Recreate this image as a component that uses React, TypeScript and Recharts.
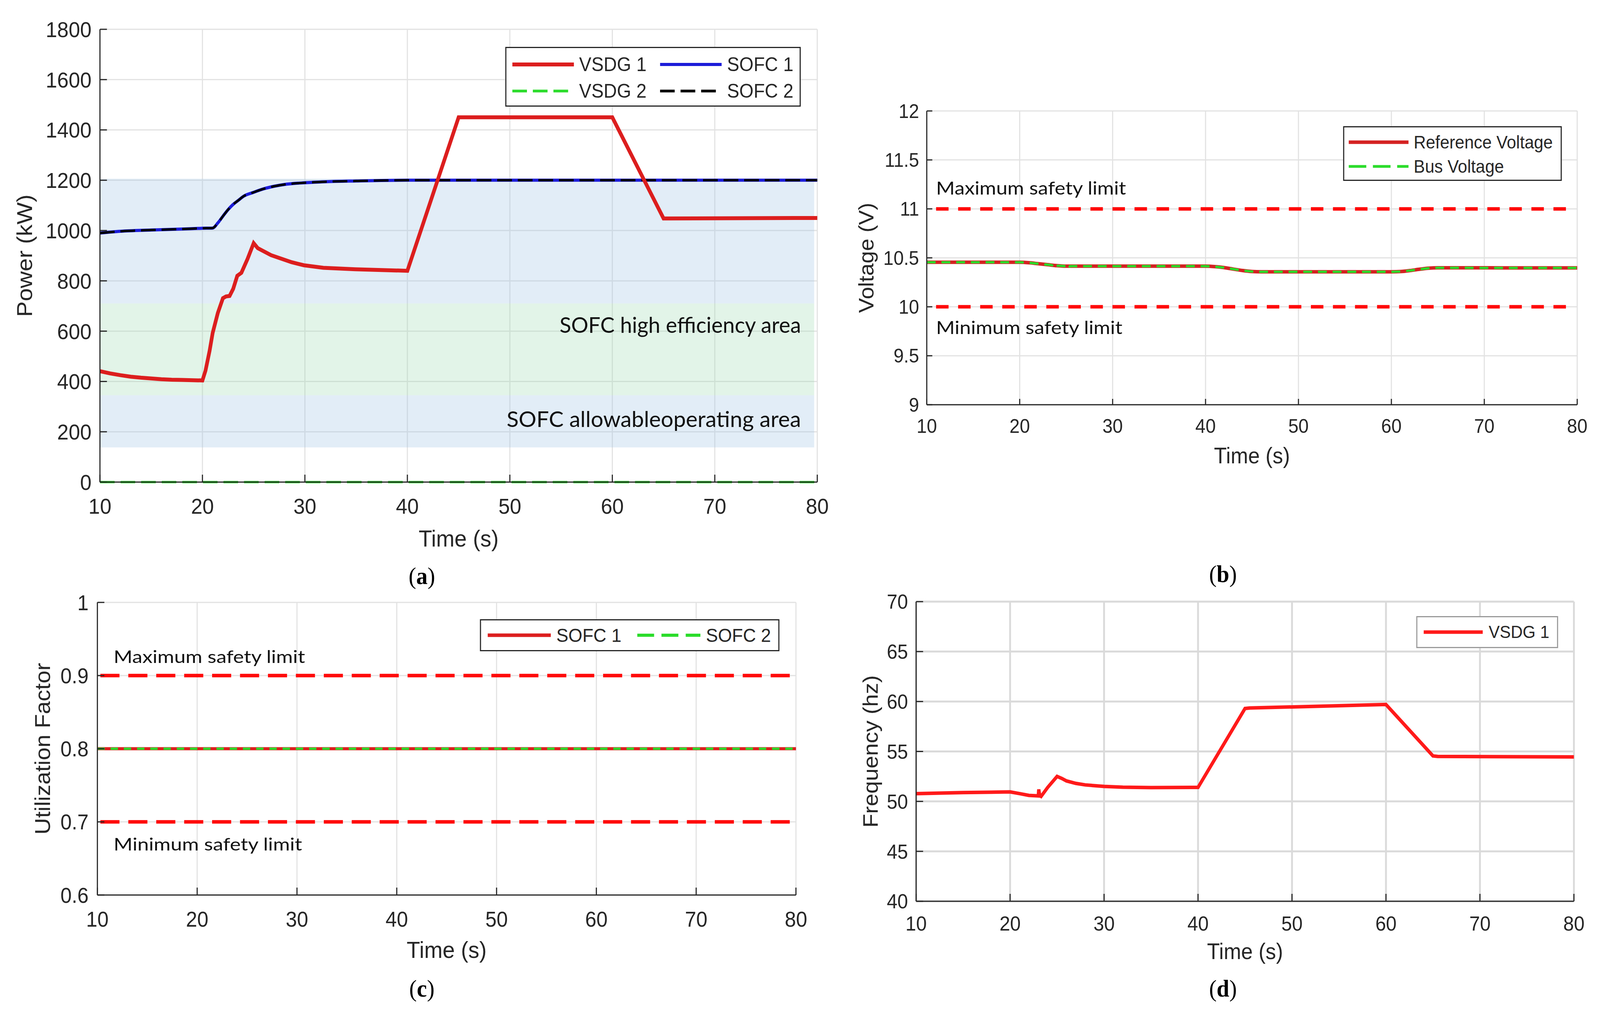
import { useLayoutEffect, useState } from 'react'
import {
  CartesianGrid,
  Legend,
  Line,
  LineChart,
  ReferenceArea,
  ReferenceLine,
  XAxis,
  YAxis,
} from 'recharts'

// shared time axis
const timeTicks = [10, 20, 30, 40, 50, 60, 70, 80]

// (a) power of the sources
const powerTicks = [0, 200, 400, 600, 800, 1000, 1200, 1400, 1600, 1800]
const vsdgTime = [10, 11, 12, 13, 14, 15, 16, 17, 18, 19, 20, 20.3, 20.7, 21, 21.5, 22, 22.3, 22.65, 23, 23.4, 23.8, 24.4, 25, 25.4, 26.7, 28.7, 29.9, 31.8, 34.9, 40, 45, 60, 65, 80]
const vsdg1Power = [441, 432, 425, 419, 415, 412, 409, 407, 406, 405, 404, 443, 522, 593, 672, 731, 738, 740, 768, 820, 832, 887, 950, 930, 902, 874, 862, 852, 846, 840, 1450, 1450, 1048, 1050]
const vsdg2Time = [10, 80]
const vsdg2Power = [0, 0]
const sofcTime = [10, 12, 15, 18, 20, 21, 21.5, 22, 22.5, 23, 23.5, 24, 25, 26, 27, 28, 30, 32, 35, 40, 80]
const sofc1Power = [990, 997, 1002, 1006, 1009, 1010, 1030, 1057, 1083, 1104, 1120, 1136, 1152, 1166, 1176, 1183, 1190, 1194, 1197, 1200, 1200]
const sofc2Power = [990, 997, 1002, 1006, 1009, 1010, 1030, 1057, 1083, 1104, 1120, 1136, 1152, 1166, 1176, 1183, 1190, 1194, 1197, 1200, 1200]
const allowableBand = [138, 1206]
const efficientBand = [345, 710]
const bandEnd = 79.7

// (b) bus voltage
const voltTicks = [9, 9.5, 10, 10.5, 11, 11.5, 12]
const refTime = [10, 20, 21, 22, 23, 24, 25, 26, 40, 41, 42, 43, 44, 45, 46, 60, 61, 62, 63, 64, 65, 80]
const refVoltage = [10.455, 10.455, 10.45, 10.44, 10.43, 10.42, 10.415, 10.415, 10.415, 10.41, 10.4, 10.385, 10.37, 10.36, 10.357, 10.357, 10.36, 10.37, 10.383, 10.394, 10.398, 10.397]
const busTime = [10, 20, 21, 22, 23, 23.5, 23.6, 23.7, 24, 25, 25.2, 25.4, 26, 40, 41, 42, 43, 44, 45, 46, 60, 61, 62, 63, 64, 65, 80]
const busVoltage = [10.455, 10.455, 10.45, 10.44, 10.43, 10.425, 10.445, 10.425, 10.42, 10.415, 10.385, 10.415, 10.415, 10.415, 10.41, 10.4, 10.385, 10.37, 10.36, 10.357, 10.357, 10.36, 10.37, 10.383, 10.394, 10.398, 10.397]
const voltLimitTime = [11, 79.5]
const voltMax = 11
const voltMin = 10

// (c) utilization factor
const utilTicks = [0.6, 0.7, 0.8, 0.9, 1]
const utilTime = [10, 80]
const sofc1Util = [0.8, 0.8]
const sofc2Util = [0.8, 0.8]
const utilLimitTime = [10.3, 79.9]
const utilMax = 0.9
const utilMin = 0.7

// (d) frequency
const freqTicks = [40, 45, 50, 55, 60, 65, 70]
const freqTime = [10, 15, 20, 21, 22, 23, 23.05, 23.15, 23.3, 24, 25, 25.5, 26, 27, 28, 30, 32, 35, 40, 45, 45.5, 60, 65, 65.5, 80]
const vsdg1Freq = [50.78, 50.88, 50.95, 50.78, 50.6, 50.55, 51.2, 50.6, 50.5, 51.4, 52.5, 52.3, 52.05, 51.8, 51.65, 51.5, 51.42, 51.38, 51.4, 59.3, 59.35, 59.7, 54.55, 54.5, 54.45]

const PAGE_W = 4354
const PAGE_H = 2593
const SANS = '"Liberation Sans", Arial, Helvetica, sans-serif'
const NOTE = 'Lato, "Open Sans", sans-serif'
const SERIF = '"Liberation Serif", "Times New Roman", serif'
const INK = '#262626'
const RED = '#dc1e1e'
const LIMIT_RED = '#ff0a0a'
const GREEN = '#2bdc2b'
const BLUE = '#1c1cd9'

const zip = (ts: number[], vs: number[]) => ts.map((t, i) => ({ t, v: vs[i] }))

function AxisTitle(props: any) {
  const { viewBox, text, fs, shiftY, centerX } = props
  if (!viewBox) return null
  if (centerX != null) {
    const x = viewBox.x + centerX
    const y = viewBox.y + viewBox.height / 2
    return (
      <text x={x} y={y} transform={`rotate(-90 ${x} ${y})`} textAnchor="middle" dominantBaseline="central"
        fontSize={fs} fontFamily={SANS} fill={INK}>
        {text}
      </text>
    )
  }
  return (
    <text x={viewBox.x + viewBox.width / 2} y={viewBox.y + shiftY} textAnchor="middle" dominantBaseline="central"
      fontSize={fs} fontFamily={SANS} fill={INK}>
      {text}
    </text>
  )
}

// annotation text, squeezed to the width it has on the figure
function Note(props: any) {
  const { viewBox, text, fs, fit, padX, lift, alignEnd } = props
  if (!viewBox) return null
  const x = alignEnd ? viewBox.x + viewBox.width - padX : viewBox.x + padX
  return (
    <text x={x} y={viewBox.y + lift} textAnchor={alignEnd ? 'end' : 'start'} fontSize={fs} fontFamily={NOTE}
      fill="#111" textLength={fit} lengthAdjust="spacingAndGlyphs">
      {text}
    </text>
  )
}

type LegendItem = { label: string; color: string; width: number; dash?: string }

function LegendBox({ items, columns, fs, sample, gap, colGap, padX, padY, rowH, w, h, border }: {
  items: LegendItem[]; columns: number; fs: number; sample: number; gap: number; colGap: number
  padX: number; padY: number; rowH: number; w: number; h: number; border: string
}) {
  return (
    <div style={{
      boxSizing: 'border-box', width: w, height: h, border: `3px solid ${border}`, background: '#fff',
      padding: `${padY}px ${padX}px`, display: 'grid', gridTemplateColumns: `repeat(${columns}, max-content)`,
      gridAutoRows: rowH, columnGap: colGap, fontFamily: SANS, fontSize: fs, color: INK, lineHeight: `${rowH}px`,
    }}>
      {items.map((it) => (
        <div key={it.label} style={{ display: 'flex', alignItems: 'center' }}>
          <svg width={sample} height={20} style={{ display: 'block' }}>
            <line x1={0} x2={sample} y1={10} y2={10} stroke={it.color} strokeWidth={it.width} strokeDasharray={it.dash} />
          </svg>
          <span style={{ marginLeft: gap, whiteSpace: 'nowrap' }}>{it.label}</span>
        </div>
      ))}
    </div>
  )
}

const axisLine = { stroke: INK, strokeWidth: 3 }

function PowerChart() {
  return (
    <LineChart width={2300} height={1440} margin={{ top: 75, right: 76, bottom: 0, left: 0 }}>
      <CartesianGrid stroke="#e2e2e2" strokeWidth={3} />
      <ReferenceArea x1={10} x2={bandEnd} y1={efficientBand[1]} y2={allowableBand[1]} fill="#9ec2e6" fillOpacity={0.3} />
      <ReferenceArea x1={10} x2={bandEnd} y1={efficientBand[0]} y2={efficientBand[1]} fill="#a0dcb4" fillOpacity={0.3}
        label={<Note text="SOFC high efficiency area" fs={56} fit={657} padX={36} lift={75} alignEnd />} />
      <ReferenceArea x1={10} x2={bandEnd} y1={allowableBand[0]} y2={efficientBand[0]} fill="#9ec2e6" fillOpacity={0.3}
        label={<Note text="SOFC allowableoperating area" fs={56} fit={801} padX={36} lift={81} alignEnd />} />
      <XAxis type="number" dataKey="t" domain={[10, 80]} ticks={timeTicks} interval={0} height={206}
        tickSize={-19} tickMargin={60} axisLine={axisLine} tickLine={axisLine}
        tick={{ fontSize: 56, fontFamily: SANS, fill: INK }}
        label={<AxisTitle text="Time (s)" fs={60} shiftY={144} />} />
      <YAxis type="number" domain={[0, 1800]} ticks={powerTicks} interval={0} width={272}
        tickSize={-19} tickMargin={42} axisLine={axisLine} tickLine={axisLine}
        tick={{ fontSize: 56, fontFamily: SANS, fill: INK }}
        label={<AxisTitle text="Power (kW)" fs={60} centerX={66} />} />
      <Line data={zip(vsdg2Time, vsdg2Power)} dataKey="v" type="linear" stroke={GREEN} strokeWidth={6}
        strokeDasharray="40 16" dot={false} activeDot={false} isAnimationActive={false} />
      <Line data={zip(sofcTime, sofc1Power)} dataKey="v" type="monotone" stroke={BLUE} strokeWidth={8}
        dot={false} activeDot={false} isAnimationActive={false} />
      <Line data={zip(sofcTime, sofc2Power)} dataKey="v" type="monotone" stroke="#000" strokeWidth={6}
        strokeDasharray="40 16" dot={false} activeDot={false} isAnimationActive={false} />
      <Line data={zip(vsdgTime, vsdg1Power)} dataKey="v" type="linear" stroke={RED} strokeWidth={10}
        dot={false} activeDot={false} isAnimationActive={false} />
      <Legend verticalAlign="middle" align="center" layout="horizontal"
        wrapperStyle={{ left: 1375, top: 120, width: 804, height: 153 }}
        content={() => (
          <LegendBox columns={2} fs={50} sample={168} gap={14} colGap={37} padX={16} padY={8} rowH={68}
            w={804} h={153} border={INK}
            items={[
              { label: 'VSDG 1', color: RED, width: 10 },
              { label: 'SOFC 1', color: BLUE, width: 8 },
              { label: 'VSDG 2', color: GREEN, width: 7, dash: '40 16' },
              { label: 'SOFC 2', color: '#000', width: 7, dash: '40 16' },
            ]} />
        )} />
    </LineChart>
  )
}

function VoltageChart() {
  return (
    <LineChart width={2054} height={1250} margin={{ top: 284, right: 62, bottom: 0, left: 0 }}>
      <CartesianGrid stroke="#e2e2e2" strokeWidth={3} />
      <XAxis type="number" dataKey="t" domain={[10, 80]} ticks={timeTicks} interval={0} height={214}
        tickSize={-15} tickMargin={52} axisLine={axisLine} tickLine={axisLine}
        tick={{ fontSize: 50, fontFamily: SANS, fill: INK }}
        label={<AxisTitle text="Time (s)" fs={57} shiftY={130} />} />
      <YAxis type="number" domain={[9, 12]} ticks={voltTicks} interval={0} width={222}
        tickSize={-15} tickMargin={36} axisLine={axisLine} tickLine={axisLine}
        tick={{ fontSize: 50, fontFamily: SANS, fill: INK }}
        label={<AxisTitle text="Voltage (V)" fs={57} centerX={57} />} />
      <ReferenceLine segment={[{ x: voltLimitTime[0], y: voltMax }, { x: voltLimitTime[1], y: voltMax }]}
        stroke={LIMIT_RED} strokeWidth={9} strokeDasharray="34 26"
        label={<Note text="Maximum safety limit" fs={46} fit={517} padX={0} lift={-37} />} />
      <ReferenceLine segment={[{ x: voltLimitTime[0], y: voltMin }, { x: voltLimitTime[1], y: voltMin }]}
        stroke={LIMIT_RED} strokeWidth={9} strokeDasharray="34 26"
        label={<Note text="Minimum safety limit" fs={46} fit={507} padX={0} lift={70} />} />
      <Line data={zip(refTime, refVoltage)} dataKey="v" type="monotone" stroke="#d42222" strokeWidth={9}
        dot={false} activeDot={false} isAnimationActive={false} />
      <Line data={zip(busTime, busVoltage)} dataKey="v" type="linear" stroke={GREEN} strokeWidth={6}
        strokeDasharray="24 16" dot={false} activeDot={false} isAnimationActive={false} />
      <Legend verticalAlign="middle" align="center" layout="horizontal"
        wrapperStyle={{ left: 1355, top: 323, width: 595, height: 140 }}
        content={() => (
          <LegendBox columns={1} fs={46} sample={163} gap={14} colGap={0} padX={12} padY={7} rowH={62}
            w={595} h={140} border={INK}
            items={[
              { label: 'Reference Voltage', color: '#d42222', width: 9 },
              { label: 'Bus Voltage', color: GREEN, width: 7, dash: '48 18' },
            ]} />
        )} />
    </LineChart>
  )
}

function UtilizationChart() {
  return (
    <LineChart width={2250} height={1100} margin={{ top: 92, right: 84, bottom: 0, left: 0 }}>
      <CartesianGrid stroke="#e2e2e2" strokeWidth={3} />
      <XAxis type="number" dataKey="t" domain={[10, 80]} ticks={timeTicks} interval={0} height={259}
        tickSize={-19} tickMargin={61} axisLine={axisLine} tickLine={axisLine}
        tick={{ fontSize: 55, fontFamily: SANS, fill: INK }}
        label={<AxisTitle text="Time (s)" fs={60} shiftY={140} />} />
      <YAxis type="number" domain={[0.6, 1]} ticks={utilTicks} interval={0} width={265}
        tickSize={-19} tickMargin={43} axisLine={axisLine} tickLine={axisLine}
        tick={{ fontSize: 55, fontFamily: SANS, fill: INK }}
        label={<AxisTitle text="Utilization Factor" fs={59} centerX={115} />} />
      <ReferenceLine segment={[{ x: utilLimitTime[0], y: utilMax }, { x: utilLimitTime[1], y: utilMax }]}
        stroke={LIMIT_RED} strokeWidth={9} strokeDasharray="52 24"
        label={<Note text="Maximum safety limit" fs={45} fit={521} padX={36} lift={-32} />} />
      <ReferenceLine segment={[{ x: utilLimitTime[0], y: utilMin }, { x: utilLimitTime[1], y: utilMin }]}
        stroke={LIMIT_RED} strokeWidth={9} strokeDasharray="52 24"
        label={<Note text="Minimum safety limit" fs={45} fit={513} padX={36} lift={73} />} />
      <Line data={zip(utilTime, sofc1Util)} dataKey="v" type="linear" stroke={RED} strokeWidth={8}
        dot={false} activeDot={false} isAnimationActive={false} />
      <Line data={zip(utilTime, sofc2Util)} dataKey="v" type="linear" stroke={GREEN} strokeWidth={6}
        strokeDasharray="20 16" dot={false} activeDot={false} isAnimationActive={false} />
      <Legend verticalAlign="middle" align="center" layout="horizontal"
        wrapperStyle={{ left: 1306, top: 135, width: 815, height: 82 }}
        content={() => (
          <LegendBox columns={2} fs={49} sample={172} gap={15} colGap={43} padX={18} padY={7} rowH={62}
            w={815} h={82} border={INK}
            items={[
              { label: 'SOFC 1', color: RED, width: 9 },
              { label: 'SOFC 2', color: GREEN, width: 8, dash: '46 20' },
            ]} />
        )} />
    </LineChart>
  )
}

function FrequencyChart() {
  return (
    <LineChart width={2054} height={1100} margin={{ top: 90, right: 71, bottom: 0, left: 0 }}>
      <CartesianGrid stroke="#dadada" strokeWidth={5} />
      <XAxis type="number" dataKey="t" domain={[10, 80]} ticks={timeTicks} interval={0} height={243}
        tickSize={-19} tickMargin={57} axisLine={axisLine} tickLine={axisLine}
        tick={{ fontSize: 52, fontFamily: SANS, fill: INK }}
        label={<AxisTitle text="Time (s)" fs={57} shiftY={128} />} />
      <YAxis type="number" domain={[40, 70]} ticks={freqTicks} interval={0} width={193}
        tickSize={-19} tickMargin={41} axisLine={axisLine} tickLine={axisLine}
        tick={{ fontSize: 52, fontFamily: SANS, fill: INK }}
        label={<AxisTitle text="Frequency (hz)" fs={58} centerX={68} />} />
      <Line data={zip(freqTime, vsdg1Freq)} dataKey="v" type="linear" stroke="#ff1a1a" strokeWidth={9}
        dot={false} activeDot={false} isAnimationActive={false} />
      <Legend verticalAlign="middle" align="center" layout="horizontal"
        wrapperStyle={{ left: 1554, top: 127, width: 386, height: 82 }}
        content={() => (
          <LegendBox columns={1} fs={45} sample={161} gap={16} colGap={0} padX={17} padY={7} rowH={62}
            w={386} h={82} border="#9a9a9a"
            items={[{ label: 'VSDG 1', color: '#ff1a1a', width: 9 }]} />
        )} />
    </LineChart>
  )
}

function Caption({ letter, x, y }: { letter: string; x: number; y: number }) {
  return (
    <div style={{
      position: 'absolute', left: x, top: y, transform: 'translate(-50%, -50%)',
      fontFamily: SERIF, fontSize: 62, color: '#000', lineHeight: 1,
    }}>
      (<b>{letter}</b>)
    </div>
  )
}

export default function App() {
  // the figure is laid out at 4354x2593 and stretched onto the viewport it actually gets
  const [fit, setFit] = useState({ sx: 1, sy: 1 })
  useLayoutEffect(() => {
    const measure = () => {
      const w = document.documentElement.clientWidth
      const h = document.documentElement.clientHeight
      setFit({ sx: w / PAGE_W, sy: h / PAGE_H })
    }
    measure()
    window.addEventListener('resize', measure)
    return () => window.removeEventListener('resize', measure)
  }, [])

  return (
    <div style={{ width: '100vw', height: '100vh', overflow: 'hidden', background: '#fff' }}>
      <style>{'html,body{margin:0;padding:0;overflow:hidden;background:#fff}'}</style>
      <div style={{
        position: 'relative', width: PAGE_W, height: PAGE_H, background: '#fff',
        transform: `scale(${fit.sx}, ${fit.sy})`, transformOrigin: '0 0',
      }}>
        <div style={{ position: 'absolute', left: 0, top: 0 }}><PowerChart /></div>
        <div style={{ position: 'absolute', left: 2300, top: 0 }}><VoltageChart /></div>
        <div style={{ position: 'absolute', left: 0, top: 1450 }}><UtilizationChart /></div>
        <div style={{ position: 'absolute', left: 2300, top: 1450 }}><FrequencyChart /></div>
        <Caption letter="a" x={1148} y={1474} />
        <Caption letter="b" x={3328} y={1469} />
        <Caption letter="c" x={1148} y={2530} />
        <Caption letter="d" x={3328} y={2530} />
      </div>
    </div>
  )
}
